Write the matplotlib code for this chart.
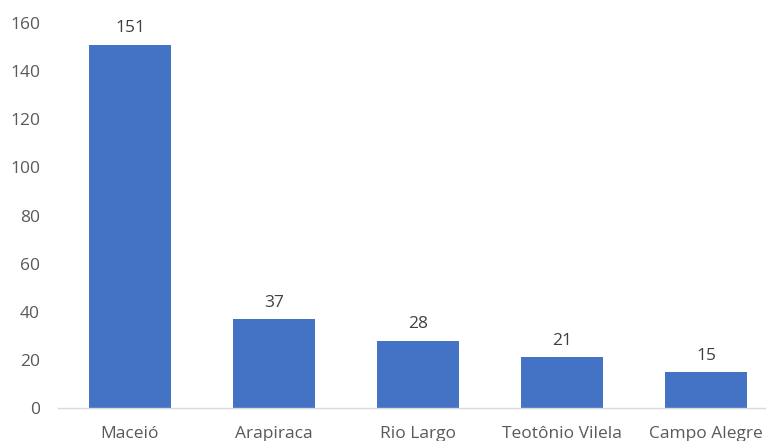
import matplotlib.pyplot as plt

cities = ['Maceió', 'Arapiraca', 'Rio Largo', 'Teotônio Vilela', 'Campo Alegre']
counts = [151, 37, 28, 21, 15]
yticks = [0, 20, 40, 60, 80, 100, 120, 140, 160]

plt.rcParams['font.family'] = ['Open Sans', 'DejaVu Sans']

fig = plt.figure(figsize=(7.66, 4.41), dpi=100)
# right edge of the plot area runs past the picture, as in the original
ax = fig.add_axes([58 / 766, 33 / 441, 720 / 766, 385 / 441])

bars = ax.bar(range(len(cities)), counts, width=0.57, color='#4472C4')
ax.bar_label(bars, labels=[str(c) for c in counts], padding=6,
             fontsize=12.5, color='#404040')

ax.set_xlim(-0.5, len(cities) - 0.5)
ax.set_ylim(0, 160)
ax.set_yticks(yticks)
ax.set_xticks(range(len(cities)))
ax.set_xticklabels(cities)

for side in ['top', 'right', 'left']:
    ax.spines[side].set_visible(False)
ax.spines['bottom'].set_color('#D9D9D9')
ax.spines['bottom'].set_linewidth(1)

ax.tick_params(axis='y', length=0, pad=13, labelsize=12.5, labelcolor='#595959')
ax.tick_params(axis='x', length=0, pad=13, labelsize=12.5, labelcolor='#595959')

fig.savefig('out.png', dpi=100)
